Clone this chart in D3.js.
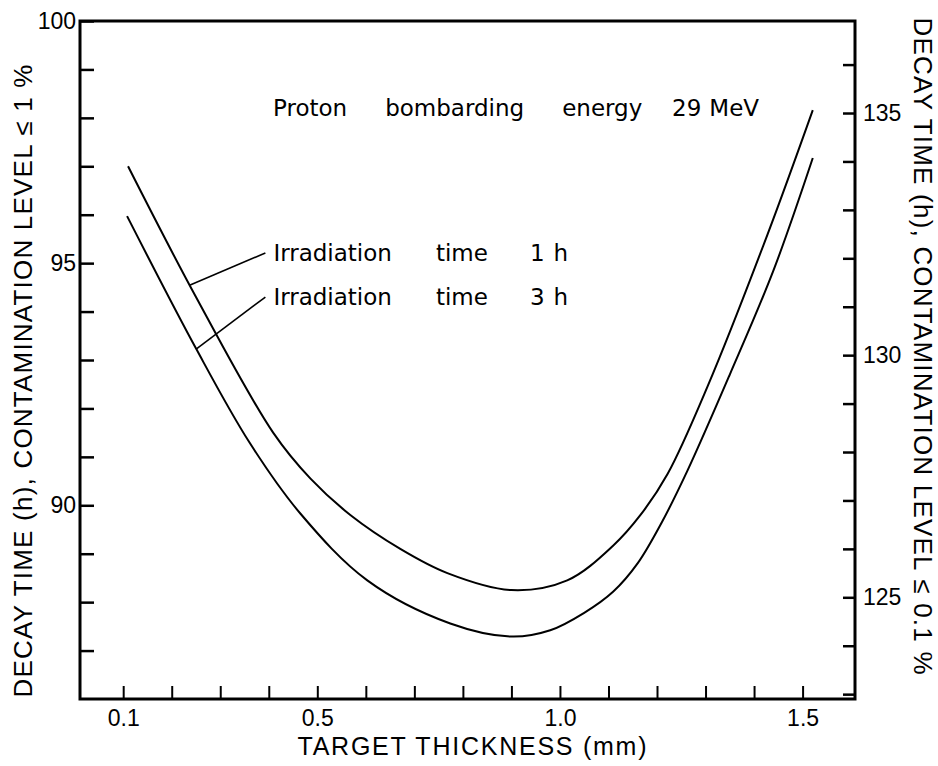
<!DOCTYPE html>
<html>
<head>
<meta charset="utf-8">
<script src="https://cdn.jsdelivr.net/npm/d3@7"></script>
<style>
  body { margin: 0; background: #fff; }
  text { font-family: "Liberation Sans", Arial, sans-serif; fill: #000; }
  .lbl { font-family: "DejaVu Sans", sans-serif; font-size: 23px; }
</style>
</head>
<body>
<div id="chart"></div>
<script>
// curves (thickness in mm, decay time on the left axis)
var thickness1h = [0.11, 0.25, 0.409, 0.486, 0.568, 0.671, 0.768, 0.9, 1.015, 1.11, 1.166, 1.222, 1.304, 1.428, 1.521];
var decay1h     = [97.0, 94.3, 91.5, 90.55, 89.8, 89.1, 88.6, 88.25, 88.45, 89.17, 89.8, 90.65, 92.45, 95.6, 98.16];
var thickness3h = [0.108, 0.251, 0.36, 0.465, 0.603, 0.774, 0.9, 0.98, 1.05, 1.11, 1.16, 1.21, 1.263, 1.35, 1.44, 1.521];
var decay3h     = [95.97, 93.22, 91.3, 89.83, 88.45, 87.56, 87.29, 87.42, 87.78, 88.22, 88.8, 89.65, 90.72, 92.7, 94.85, 97.17];

var xTicks = [0.1, 0.2, 0.3, 0.4, 0.5, 0.6, 0.7, 0.8, 0.9, 1.0, 1.1, 1.2, 1.3, 1.4, 1.5];
var xTickLabels = [0.1, 0.5, 1.0, 1.5];
var leftTicks = [87, 88, 89, 90, 91, 92, 93, 94, 95, 96, 97, 98, 99, 100];
var leftTickLabels = [90, 95, 100];
var rightTicks = [123, 124, 125, 126, 127, 128, 129, 130, 131, 132, 133, 134, 135, 136];
var rightTickLabels = [125, 130, 135];

// annotation pointers: [curve point, label point] in data units
var pointerLabels = ["Irradiation time 1 h", "Irradiation time 3 h"];
var pointerFrom = [[0.238, 94.55], [0.251, 93.23]];
var pointerTo   = [[0.393, 95.21], [0.393, 94.30]];
var titleText = ["Proton bombarding energy", "29 MeV"];

var width = 938, height = 766;
var margin = {top: 21, right: 83, bottom: 67, left: 80};

var x = d3.scaleLinear().domain([0.011, 1.608]).range([margin.left, width - margin.right]);
var yL = d3.scaleLinear().domain([86, 100]).range([height - margin.bottom, margin.top]);
var yR = d3.scaleLinear().domain([122.9, 136.9]).range([height - margin.bottom, margin.top]);

var svg = d3.select("#chart").append("svg")
  .attr("width", width)
  .attr("height", height);

var fmt1 = d3.format(".1f");

// bottom axis
var xAxis = svg.append("g")
  .attr("transform", "translate(0," + yL.range()[0] + ")")
  .call(d3.axisBottom(x).tickValues(xTicks).tickSize(-13).tickPadding(10)
    .tickFormat(d => xTickLabels.some(v => Math.abs(v - d) < 1e-9) ? fmt1(d) : ""));
xAxis.select(".domain").remove();
xAxis.selectAll(".tick line").attr("stroke", "#000").attr("stroke-width", 2);
xAxis.selectAll("text").style("font-size", "23px").attr("dy", "0.72em");

// left axis
var lAxis = svg.append("g")
  .attr("transform", "translate(" + x.range()[0] + ",0)")
  .call(d3.axisLeft(yL).tickValues(leftTicks).tickSize(-14).tickPadding(4)
    .tickFormat(d => leftTickLabels.includes(d) ? d : ""));
lAxis.select(".domain").remove();
lAxis.selectAll(".tick line").attr("stroke", "#000").attr("stroke-width", 2.5);
lAxis.selectAll("text").style("font-size", "23px");

// right axis
var rAxis = svg.append("g")
  .attr("transform", "translate(" + x.range()[1] + ",0)")
  .call(d3.axisRight(yR).tickValues(rightTicks).tickSize(-12).tickPadding(8)
    .tickFormat(d => rightTickLabels.includes(d) ? d : ""));
rAxis.select(".domain").remove();
rAxis.selectAll(".tick line").attr("stroke", "#000").attr("stroke-width", 2.5);
rAxis.selectAll("text").style("font-size", "23px");

// frame
svg.append("rect")
  .attr("x", x.range()[0])
  .attr("y", yL.range()[1])
  .attr("width", x.range()[1] - x.range()[0])
  .attr("height", yL.range()[0] - yL.range()[1])
  .attr("fill", "none")
  .attr("stroke", "#000")
  .attr("stroke-width", 3);

// curves
var line = d3.line()
  .x(d => x(d[0]))
  .y(d => yL(d[1]))
  .curve(d3.curveCatmullRom.alpha(0.5));

var series = [d3.zip(thickness1h, decay1h), d3.zip(thickness3h, decay3h)];
svg.append("g")
  .selectAll("path")
  .data(series)
  .join("path")
    .attr("d", line)
    .attr("fill", "none")
    .attr("stroke", "#000")
    .attr("stroke-width", 2);

// pointers
svg.append("g")
  .selectAll("line")
  .data(pointerLabels)
  .join("line")
    .attr("x1", (d, i) => x(pointerFrom[i][0]))
    .attr("y1", (d, i) => yL(pointerFrom[i][1]))
    .attr("x2", (d, i) => x(pointerTo[i][0]))
    .attr("y2", (d, i) => yL(pointerTo[i][1]))
    .attr("stroke", "#000")
    .attr("stroke-width", 1.6);

// words drawn with wide gaps, like the lettering of the original
function spacedText(x0, y0, words, gap, dy) {
  var t = svg.append("text").attr("class", "lbl")
    .attr("x", x0).attr("y", y0).attr("dy", dy || 0);
  words.forEach(function(w, i) {
    t.append("tspan").attr("dx", i ? gap[i - 1] : 0).text(w);
  });
  return t;
}

pointerLabels.forEach(function(lab, i) {
  spacedText(x(pointerTo[i][0]) + 8, yL(pointerTo[i][1]), lab.split(" "), [44, 42, 9], "0.36em");
});

// title
spacedText(273, 116, titleText[0].split(" "), [38, 38]);
spacedText(672, 116, titleText[1].split(" "), [8]);

// axis titles
svg.append("text")
  .attr("transform", "translate(23,381) rotate(-90)")
  .attr("text-anchor", "middle")
  .attr("dy", "0.36em")
  .attr("textLength", 633)
  .attr("lengthAdjust", "spacing")
  .style("font-size", "26px")
  .text("DECAY TIME (h), CONTAMINATION LEVEL \u2264 1 %");

svg.append("text")
  .attr("transform", "translate(923,346) rotate(90)")
  .attr("text-anchor", "middle")
  .attr("dy", "0.36em")
  .attr("textLength", 657)
  .attr("lengthAdjust", "spacing")
  .style("font-size", "26px")
  .text("DECAY TIME (h), CONTAMINATION LEVEL \u2264 0.1 %");

svg.append("text")
  .attr("x", 472).attr("y", 755)
  .attr("text-anchor", "middle")
  .attr("textLength", 349)
  .attr("lengthAdjust", "spacing")
  .style("font-size", "25px")
  .text("TARGET THICKNESS (mm)");
</script>
</body>
</html>
